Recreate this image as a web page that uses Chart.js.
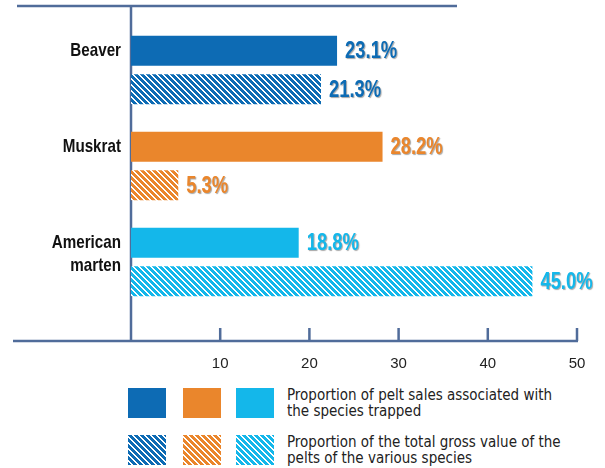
<!DOCTYPE html>
<html>
<head>
<meta charset="utf-8">
<script src="https://cdn.jsdelivr.net/npm/chart.js@4"></script>
<style>
	body { margin: 0; background: #fff; width: 605px; height: 468px; position: relative; overflow: hidden; }
	#chartWrap { position: absolute; left: 0; top: 0; width: 605px; height: 380px; }
	.swatch { position: absolute; width: 38px; height: 30px; }
	.legend-text { position: absolute; left: 287px; font: 15px "DejaVu Sans Condensed", sans-serif; line-height: 16px; color: #222; white-space: nowrap; }
</style>
</head>
<body>
<div id="chartWrap"><canvas id="peltChart"></canvas></div>

<canvas class="swatch" id="sw00" width="38" height="30" style="left:128px;top:388px"></canvas>
<canvas class="swatch" id="sw01" width="38" height="30" style="left:183px;top:388px"></canvas>
<canvas class="swatch" id="sw02" width="38" height="30" style="left:236px;top:388px"></canvas>
<canvas class="swatch" id="sw10" width="38" height="30" style="left:128px;top:435px"></canvas>
<canvas class="swatch" id="sw11" width="38" height="30" style="left:183px;top:435px"></canvas>
<canvas class="swatch" id="sw12" width="38" height="30" style="left:236px;top:435px"></canvas>
<div class="legend-text" id="legend0" style="top:387px"></div>
<div class="legend-text" id="legend1" style="top:434px"></div>

<script>
/* ── 데이터 ── */
const species      = ['Beaver', 'Muskrat', 'American marten'];
const speciesLines = [['Beaver'], ['Muskrat'], ['American', 'marten']];
const salesShare   = [23.1, 28.2, 18.8];   // 포획 종별 모피 판매 비율
const valueShare   = [21.3, 5.3, 45.0];    // 모피 총 가치 비율
const xTicks       = [10, 20, 30, 40, 50];
const seriesNames  = [
	['Proportion of pelt sales associated with', 'the species trapped'],
	['Proportion of the total gross value of the', 'pelts of the various species']
];
const speciesColors = ['#0d6bb4', '#ea862c', '#14b7ea'];

const AXIS_COLOR = '#506c9a';
const NARROW = 0.8;   // 좁은 글꼴 흉내 (가로 축소 비율)

/* ── 사선 패턴 ── */
function makeHatch(color) {
	const P = 6;
	const tile = document.createElement('canvas');
	tile.width = P; tile.height = P;
	const t = tile.getContext('2d');
	t.fillStyle = '#fff';
	t.fillRect(0, 0, P, P);
	t.fillStyle = color;
	for (let y = 0; y < P; y++) {
		for (let x = 0; x < P; x++) {
			if (((x - y) % P + P) % P < 4) t.fillRect(x, y, 1, 1);
		}
	}
	return t.createPattern(tile, 'repeat');
}

const hatchColors = speciesColors.map(makeHatch);

/* ── 프레임 선 / 눈금 ── */
const framePlugin = {
	id: 'frame',
	beforeDatasetsDraw(chart) {
		const ctx = chart.ctx;
		const area = chart.chartArea;
		const xs = chart.scales.x;
		ctx.save();
		ctx.strokeStyle = AXIS_COLOR;
		ctx.lineWidth = 2.5;
		ctx.beginPath();
		ctx.moveTo(17, 6);  ctx.lineTo(457, 6);
		ctx.moveTo(area.left, 6);  ctx.lineTo(area.left, 341);
		ctx.moveTo(13, 341); ctx.lineTo(xs.getPixelForValue(50) + 1, 341);
		xTicks.forEach(function(v) {
			const px = xs.getPixelForValue(v);
			ctx.moveTo(px, 328); ctx.lineTo(px, 341);
		});
		ctx.stroke();
		ctx.restore();
	}
};

// 가로로 눌린 글자 쓰기
function narrowText(ctx, text, x, y) {
	ctx.save();
	ctx.translate(x, y);
	ctx.scale(NARROW, 1);
	ctx.fillText(text, 0, 0);
	ctx.restore();
}

/* ── 종 이름, 값 라벨 ── */
const labelPlugin = {
	id: 'labels',
	afterDatasetsDraw(chart) {
		const ctx = chart.ctx;
		const area = chart.chartArea;
		ctx.save();

		// 종 이름: 첫 줄을 실선 막대 중앙에 맞춘다
		ctx.font = 'bold 19px "Liberation Sans", Arial, sans-serif';
		ctx.fillStyle = '#111';
		ctx.textAlign = 'right';
		ctx.textBaseline = 'middle';
		const solidBars = chart.getDatasetMeta(0).data;
		speciesLines.forEach(function(lines, i) {
			lines.forEach(function(line, j) {
				narrowText(ctx, line, area.left - 10, solidBars[i].y + j * 23);
			});
		});

		// 막대 끝 값 라벨
		ctx.font = 'bold 23px "Liberation Sans", Arial, sans-serif';
		ctx.textAlign = 'left';
		ctx.shadowColor = 'rgba(0,0,0,0.35)';
		ctx.shadowOffsetX = 1;
		ctx.shadowOffsetY = 1;
		ctx.shadowBlur = 1;
		chart.data.datasets.forEach(function(ds, di) {
			chart.getDatasetMeta(di).data.forEach(function(bar, i) {
				ctx.fillStyle = speciesColors[i];
				narrowText(ctx, ds.data[i].toFixed(1) + '%', bar.x + 8, bar.y + 1);
			});
		});
		ctx.restore();
	}
};

new Chart(document.getElementById('peltChart'), {
	type: 'bar',
	data: {
		labels: species,
		datasets: [
			{ label: seriesNames[0].join(' '), data: salesShare, backgroundColor: speciesColors },
			{ label: seriesNames[1].join(' '), data: valueShare, backgroundColor: hatchColors }
		]
	},
	options: {
		indexAxis: 'y',
		responsive: true,
		maintainAspectRatio: false,
		animation: false,
		categoryPercentage: 0.8,
		barPercentage: 0.78,
		layout: { padding: { left: 131, right: 28, top: 22, bottom: 0 } },
		plugins: {
			legend: { display: false },
			tooltip: { enabled: false }
		},
		scales: {
			y: { display: false },
			x: {
				min: 0,
				max: 50,
				grid: { display: false, drawTicks: false },
				border: { display: false },
				// 라벨을 아래로 내리면서 좌우 여백은 늘리지 않는다
				afterFit: function(s) {
					s.height = 70;
					s.paddingLeft = 0;
					s.paddingRight = 0;
				},
				afterBuildTicks: function(s) { s.ticks = xTicks.map(function(v) { return { value: v }; }); },
				ticks: {
					padding: 45,
					color: '#222',
					font: { family: '"Liberation Sans", Arial, sans-serif', size: 15 }
				}
			}
		}
	},
	plugins: [framePlugin, labelPlugin]
});

/* ── 범례 ── */
speciesColors.forEach(function(c, i) {
	const s0 = document.getElementById('sw0' + i).getContext('2d');
	s0.fillStyle = c;
	s0.fillRect(0, 0, 38, 30);
	const s1 = document.getElementById('sw1' + i).getContext('2d');
	s1.fillStyle = makeHatch(c);
	s1.fillRect(0, 0, 38, 30);
});
document.getElementById('legend0').innerHTML = seriesNames[0].join('<br>');
document.getElementById('legend1').innerHTML = seriesNames[1].join('<br>');
</script>
</body>
</html>
